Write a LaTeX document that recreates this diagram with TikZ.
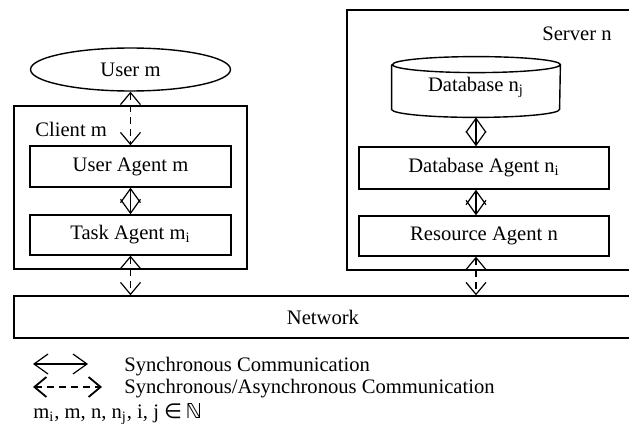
\documentclass[tikz,border=0pt]{standalone}
\usepackage{fontspec}
\setmainfont{Liberation Serif}
\newfontfamily\symfont{DejaVu Sans}
\usetikzlibrary{arrows.meta,shapes.geometric}

\tikzset{
  box/.style={draw, line width=0.7pt, inner sep=0pt},
  agent/.style={box, minimum width=100.5pt, minimum height=20.5pt},
  sagent/.style={box, minimum width=125pt, minimum height=20.5pt},
  sync/.style={line width=0.6pt,
    {Straight Barb[length=7pt,width=10pt]}-{Straight Barb[length=7pt,width=10pt]}},
  async/.style={line width=0.6pt, dash pattern=on 3.5pt off 2.5pt,
    {Straight Barb[length=6pt,width=10pt]}-{Straight Barb[length=6pt,width=10pt]}}
}

\begin{document}
\begin{tikzpicture}[x=0.5pt, y=-0.5pt, font=\fontsize{10.3}{12}\selectfont]
    \useasboundingbox (0,0) rectangle (629,439);

    % client side
    \node [box, ellipse, minimum width=100pt, minimum height=21.5pt] (user) at (130.5, 69.5) {User m};
    \node [box, minimum width=116.5pt, minimum height=81.5pt] (client) at (130.5, 187.5) {};
    \node [anchor=west, inner sep=0pt] (clientlbl) at (35, 129) {Client m};
    \node [agent] (uagent) at (130.5, 166.5) {User Agent m};
    \node [agent, minimum height=20pt] (tagent) at (130.5, 235) {Task Agent m\textsubscript{i}};

    % server side
    \node [box, minimum width=142.5pt, minimum height=130pt] (server) at (489.5, 140) {};
    \node [anchor=east, inner sep=0pt] (serverlbl) at (612, 34) {Server n};
    \node [inner sep=0pt, minimum width=84pt, minimum height=30pt] (db) at (476, 87) {Database n\textsubscript{j}};
    \draw [line width=0.7pt] ([yshift=-4pt]db.north west) -- ([yshift=4pt]db.south west)
        arc [start angle=180, end angle=360, x radius=42pt, y radius=4pt]
        -- ([yshift=-4pt]db.north east)
        arc [start angle=0, end angle=360, x radius=42pt, y radius=4pt];
    \node [sagent, minimum height=21pt] (dbagent) at (484, 168) {Database Agent n\textsubscript{i}};
    \node [sagent, minimum height=20pt] (ragent) at (484, 236) {Resource Agent n};

    % network
    \node [box, minimum width=309pt, minimum height=21pt] (network) at (323, 317) {Network};

    % connections
    \draw [async] (user.south) -- (uagent.north);
    \draw [sync] (uagent.south) -- (tagent.north);
    \draw [async] (tagent.south) -- (tagent.south |- network.north);
    \draw [sync] (db.south) -- (db.south |- dbagent.north);
    \draw [sync] (db.south |- dbagent.south) -- (db.south |- ragent.north);
    \draw [async] (db.south |- ragent.south) -- (db.south |- network.north);

    % legend
    \coordinate (sa) at (33, 364);
    \coordinate (sb) at (88, 364);
    \coordinate (aa) at (33, 387);
    \coordinate (ab) at (102, 387);
    \draw [sync] (sa) -- (sb);
    \draw [async, line width=0.9pt] (aa) -- (ab);
    \node [anchor=west, inner sep=0pt] (synclbl) at (124, 367) {Synchronous Communication};
    \node [anchor=west, inner sep=0pt] (asynclbl) at (124, 389) {Synchronous/Asynchronous Communication};
    \node [anchor=west, inner sep=0pt] (setlbl) at (33, 414)
       {m\textsubscript{i}, m, n, n\textsubscript{j}, i, j {\symfont ∈\,ℕ}};
\end{tikzpicture}
\end{document}
